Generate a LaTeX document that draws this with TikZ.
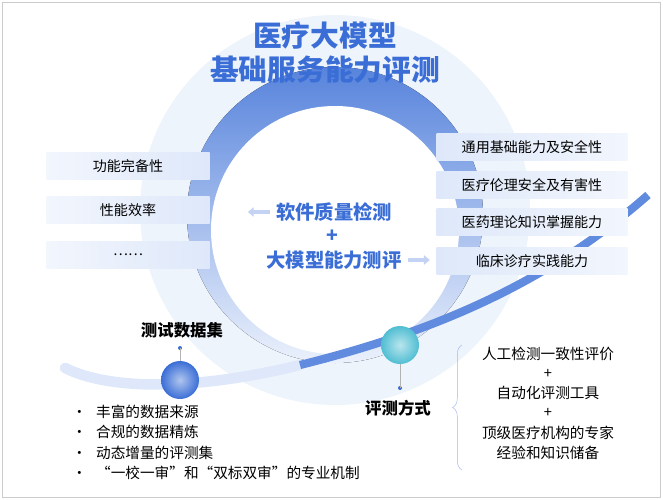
\documentclass[tikz,border=0pt]{standalone}
\usepackage{fontspec}
\newfontfamily\cjk{Noto Sans CJK SC}
\usetikzlibrary{decorations.pathreplacing,arrows.meta}
\definecolor{mainblue}{RGB}{58,110,214}
\definecolor{lightblue}{RGB}{222,232,250}
\definecolor{teal}{RGB}{80,190,210}
\tikzset{
  itembox/.style={minimum width=163*0.03cm,minimum height=27*0.03cm,left color=lightblue!40,right color=lightblue,text=black,font=\cjk\fontsize{12}{14}\selectfont},
  ritembox/.style={itembox,minimum width=191*0.03cm,left color=lightblue,right color=lightblue!40},
  bigtext/.style={font=\cjk\bfseries\fontsize{16.5}{19}\selectfont,text=mainblue},
  headtext/.style={font=\cjk\bfseries\fontsize{14}{16}\selectfont},
  plain/.style={font=\cjk\fontsize{12.5}{15}\selectfont},
  ballnode/.style={circle,minimum size=38*0.03cm,inner color=#1!40,outer color=#1}
}
\begin{document}
\begin{tikzpicture}[x=0.03cm,y=-0.03cm]
\useasboundingbox (0,0) rectangle (663,500);
\draw[gray!40] (2,2) rectangle (660,497);
% ring
\fill[lightblue!50] (335,210) circle (195);
\fill[top color=mainblue!85,bottom color=lightblue!60] (335,215) circle (148);
\fill[white] (335,230) circle (124);
% swoosh
\draw[lightblue,line width=9pt,line cap=round] (65,368) .. controls (120,395) and (220,385) .. (300,365);
\draw[mainblue!80,line width=7pt] (300,365) .. controls (420,335) and (540,290) .. (648,195);
% title
\node[font=\cjk\bfseries\fontsize{24.5}{28}\selectfont,text=mainblue] (t1) at (325,36) {医疗大模型};
\node[font=\cjk\bfseries\fontsize{24.5}{28}\selectfont,text=mainblue] (t2) at (325,70) {基础服务能力评测};
% left boxes
\node[itembox] (l1) at (128,166) {功能完备性};
\node[itembox] (l2) at (128,210) {性能效率};
\node[itembox] (l3) at (128,255) {……};
% right boxes
\node[ritembox] (r1) at (532,147) {通用基础能力及安全性};
\node[ritembox] (r2) at (532,185) {医疗伦理安全及有害性};
\node[ritembox] (r3) at (532,222) {医药理论知识掌握能力};
\node[ritembox] (r4) at (532,261) {临床诊疗实践能力};
% centre
\node[bigtext] (q) at (334,212) {软件质量检测};
\node[bigtext] (p) at (332,236) {+};
\node[bigtext] (m) at (334,260) {大模型能力测评};
\draw[-{Triangle[length=5pt,width=8pt]},line width=4pt,mainblue!30] (q.west) ++(-2,0) -- ++(-22,0) coordinate (qa);
\draw[-{Triangle[length=5pt,width=8pt]},line width=4pt,mainblue!30] (m.east) ++(2,0) -- ++(22,0) coordinate (ma);
% circles
\node[ballnode=mainblue] (c1) at (180,380) {};
\node[ballnode=teal] (c2) at (400,345) {};
\node[headtext] (h1) at (182,330) {测试数据集};
\fill[mainblue] (180,348) circle (2) coordinate (d1);
\draw[gray!60] (d1) -- (c1);
\node[headtext] (h2) at (398,408) {评测方式};
\fill[mainblue] (400,388) circle (2) coordinate (d2);
\draw[gray!60] (d2) -- (c2);
% bullets
\foreach \t [count=\i] in {丰富的数据来源,合规的数据精炼,动态增量的评测集,“一校一审”和“双标双审”的专业机制}
  \node[plain,anchor=west] (b\i) at (68,391+20.5*\i) {\textbullet\hspace{8pt}\t};
% brace
\draw[mainblue!50,decorate,decoration={brace,amplitude=8pt}] (462,470) -- (462,345);
\foreach \t [count=\i] in {人工检测一致性评价,+,自动化评测工具,+,顶级医疗机构的专家,经验和知识储备}
  \node[plain] (w\i) at (548,334+19.8*\i) {\t};
\end{tikzpicture}
\end{document}
